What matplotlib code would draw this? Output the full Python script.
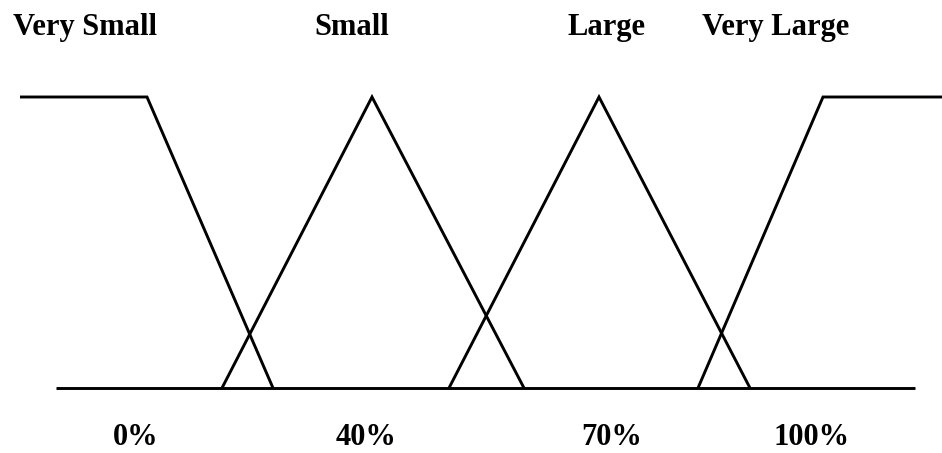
import matplotlib
matplotlib.use("Agg")
import matplotlib.pyplot as plt

# Membership functions (x in chart units along the universe, y = membership degree)
very_small_x = [20, 147, 273]
very_small_y = [1, 1, 0]
small_x = [222, 372, 524]
small_y = [0, 1, 0]
large_x = [449, 599, 750]
large_y = [0, 1, 0]
very_large_x = [698, 823, 942]
very_large_y = [0, 1, 1]
baseline_x = [56, 915]
baseline_y = [0, 0]

set_labels = ["Very Small", "Small", "Large", "Very Large"]
set_label_pos = [85, 352, 607, 776]
tick_labels = ["0%", "40%", "70%", "100%"]
tick_label_pos = [136, 366, 612, 812]

fig = plt.figure(figsize=(9.42, 4.53), dpi=100)
ax = fig.add_axes([0, 0, 1, 1])
ax.set_xlim(0, 942)
ax.set_ylim((388 - 453) / 291, 388 / 291)
ax.axis("off")

lw = 2.1
for xs, ys in [(very_small_x, very_small_y), (small_x, small_y),
               (large_x, large_y), (very_large_x, very_large_y),
               (baseline_x, baseline_y)]:
    ax.plot(xs, ys, color="black", linewidth=lw, solid_joinstyle="miter",
            solid_capstyle="butt")

font = dict(family="Liberation Serif", fontweight="bold", fontsize=22)
for lab, x in zip(set_labels, set_label_pos):
    ax.text(x, 1.213, lab, ha="center", va="baseline", **font)
for lab, x in zip(tick_labels, tick_label_pos):
    ax.text(x, -0.196, lab, ha="center", va="baseline", **font)

fig.savefig("out.png", dpi=100, facecolor="white")
